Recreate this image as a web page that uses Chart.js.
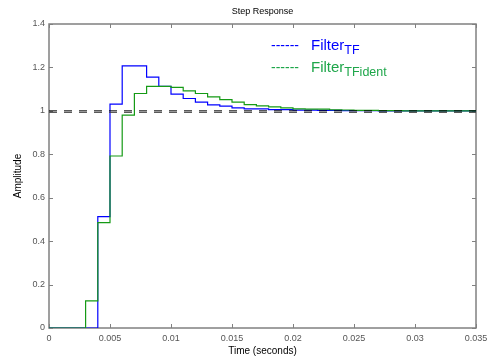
<!DOCTYPE html>
<html>
<head>
<meta charset="utf-8">
<script src="https://cdn.jsdelivr.net/npm/chart.js@4"></script>
<style>
  html, body { margin: 0; padding: 0; background: #fff; }
</style>
</head>
<body>
<canvas id="step-chart" width="496" height="362"></canvas>
<script>
// sample times (s), Ts = 1 ms
var times = [0, 0.001, 0.002, 0.003, 0.004, 0.005, 0.006, 0.007, 0.008, 0.009,
    0.010, 0.011, 0.012, 0.013, 0.014, 0.015, 0.016, 0.017, 0.018, 0.019,
    0.020, 0.021, 0.022, 0.023, 0.024, 0.025, 0.026, 0.027, 0.028, 0.029,
    0.030, 0.031, 0.032, 0.033, 0.034, 0.035];

var filterTF = [0, 0, 0, 0, 0.513, 1.031, 1.207, 1.207, 1.155, 1.113,
    1.077, 1.057, 1.040, 1.028, 1.022, 1.014, 1.009, 1.009, 1.006, 1.006,
    1.003, 1.003, 1.002, 1.002, 1.001, 1.001, 1.001, 1.000, 1.000, 1.000,
    1.000, 1.000, 1.000, 1.000, 1.000, 1.000];

var filterTFident = [0, 0, 0, 0.125, 0.485, 0.792, 0.980, 1.080, 1.113, 1.113,
    1.108, 1.092, 1.080, 1.064, 1.052, 1.040, 1.029, 1.023, 1.018, 1.014,
    1.009, 1.008, 1.008, 1.005, 1.004, 1.002, 1.002, 1.001, 1.001, 1.000,
    1.000, 1.000, 1.000, 1.000, 1.000, 1.000];

// steady-state values
var finalTF = 1.0;
var finalTFident = 0.993;

var xTickLabels = ["0", "0.005", "0.01", "0.015", "0.02", "0.025", "0.03", "0.035"];
var yTickLabels = ["0", "0.2", "0.4", "0.6", "0.8", "1", "1.2", "1.4"];

var FONT = "'Liberation Sans', Arial, Helvetica, sans-serif";
var AXIS_GRAY = "#808080";

function points(ys) {
    return times.map(function (t, i) {
        return { x: t, y: ys[i] };
    });
}

function flatLine(v) {
    return [{ x: times[0], y: v }, { x: times[times.length - 1], y: v }];
}

// axes box with MATLAB-style inward ticks on all sides
var axesBox = {
    id: "axesBox",
    beforeDatasetsDraw: function (chart) {
        var ctx = chart.ctx,
            a = chart.chartArea,
            xs = chart.scales.x,
            ys = chart.scales.y,
            len = 4;
        ctx.save();
        ctx.strokeStyle = AXIS_GRAY;
        ctx.lineWidth = 1;
        ctx.beginPath();
        xs.ticks.forEach(function (t) {
            var px = Math.round(xs.getPixelForValue(t.value)) + 0.5;
            ctx.moveTo(px, a.bottom);
            ctx.lineTo(px, a.bottom - len);
            ctx.moveTo(px, a.top);
            ctx.lineTo(px, a.top + len);
        });
        ys.ticks.forEach(function (t) {
            var py = Math.round(ys.getPixelForValue(t.value)) + 0.5;
            ctx.moveTo(a.left, py);
            ctx.lineTo(a.left + len, py);
            ctx.moveTo(a.right, py);
            ctx.lineTo(a.right - len, py);
        });
        ctx.stroke();
        ctx.lineWidth = 1.5;
        ctx.strokeRect(a.left, a.top, a.right - a.left, a.bottom - a.top);
        ctx.restore();
    },
};

// text legend with subscripts
var subLegend = {
    id: "subLegend",
    afterDraw: function (chart) {
        var ctx = chart.ctx;
        var rows = [
            { sub: "TF", color: "#0000ff", y: 50 },
            { sub: "TFident", color: "#1ea64a", y: 72 },
        ];
        ctx.save();
        ctx.textBaseline = "alphabetic";
        rows.forEach(function (r) {
            ctx.fillStyle = r.color;
            ctx.font = "14px " + FONT;
            ctx.fillText("------", 271, r.y);
            ctx.font = "15px " + FONT;
            ctx.fillText("Filter", 311, r.y);
            var w = ctx.measureText("Filter").width;
            ctx.font = "12.5px " + FONT;
            ctx.fillText(r.sub, 311 + w, r.y + 4);
        });
        ctx.restore();
    },
};

var context = document.getElementById("step-chart").getContext("2d");

var myChart = new Chart(context, {
    type: "line",
    data: {
        datasets: [
            {
                label: "Filter TF final",
                data: flatLine(finalTF),
                borderColor: "#000000",
                borderWidth: 1,
                borderDash: [8, 7],
                pointRadius: 0,
            },
            {
                label: "Filter TFident final",
                data: flatLine(finalTFident),
                borderColor: "#444444",
                borderWidth: 1,
                borderDash: [8, 7],
                pointRadius: 0,
            },
            {
                label: "Filter TFident",
                data: points(filterTFident),
                borderColor: "#159a15",
                borderWidth: 1.2,
                stepped: "before",
                pointRadius: 0,
            },
            {
                label: "Filter TF",
                data: points(filterTF),
                borderColor: "#0000ff",
                borderWidth: 1.2,
                stepped: "before",
                pointRadius: 0,
            },
        ],
    },
    options: {
        responsive: false,
        animation: false,
        layout: { padding: { top: 0, right: 20, left: 0, bottom: 0 } },
        plugins: {
            legend: { display: false },
            tooltip: { enabled: false },
            title: {
                display: true,
                text: "Step Response",
                fullSize: false,
                color: "#000",
                font: { family: FONT, size: 9, weight: "normal" },
                padding: { top: 6, bottom: 7.2 },
            },
        },
        scales: {
            x: {
                type: "linear",
                min: 0,
                max: 0.035,
                grid: { display: false, drawTicks: false },
                border: { display: false },
                ticks: {
                    stepSize: 0.005,
                    color: "#555",
                    padding: 5,
                    maxRotation: 0,
                    font: { family: FONT, size: 9 },
                    callback: function (v, i) {
                        return xTickLabels[i];
                    },
                },
                title: {
                    display: true,
                    text: "Time (seconds)",
                    color: "#000",
                    font: { family: FONT, size: 10 },
                    padding: { top: 0, bottom: 5 },
                },
                afterFit: function (s) {
                    s.height = 34;
                },
            },
            y: {
                min: 0,
                max: 1.4,
                grid: { display: false, drawTicks: false },
                border: { display: false },
                ticks: {
                    stepSize: 0.2,
                    color: "#555",
                    padding: 4,
                    font: { family: FONT, size: 9 },
                    callback: function (v, i) {
                        return yTickLabels[i];
                    },
                },
                title: {
                    display: true,
                    text: "Amplitude",
                    color: "#000",
                    font: { family: FONT, size: 10 },
                    padding: { top: 12, bottom: 0 },
                },
                afterFit: function (s) {
                    s.width = 49;
                },
            },
        },
    },
    plugins: [axesBox, subLegend],
});
</script>
</body>
</html>
